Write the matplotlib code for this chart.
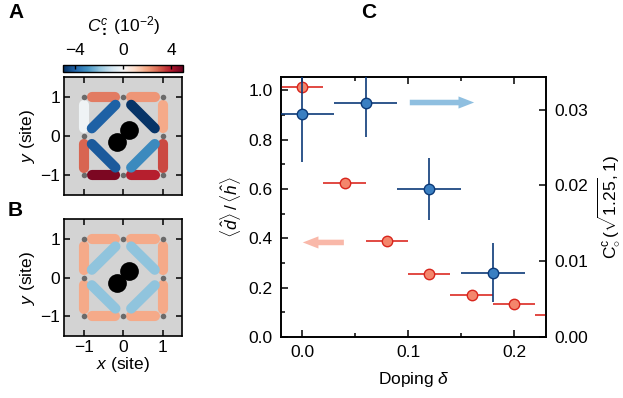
import numpy as np
import matplotlib.pyplot as plt
from matplotlib import cm, colors
from matplotlib.ticker import MultipleLocator

plt.rcParams['font.family'] = ['Liberation Sans', 'DejaVu Sans']
plt.rcParams['mathtext.fontset'] = 'custom'
plt.rcParams['mathtext.rm'] = 'Liberation Sans'
plt.rcParams['mathtext.it'] = 'Liberation Sans:italic'
plt.rcParams['font.size'] = 12.5
plt.rcParams['axes.linewidth'] = 1.2

# --- doping scan ---
dop_red = [0.0, 0.04, 0.08, 0.12, 0.16, 0.20, 0.24]
ratio_dh = [1.013, 0.622, 0.387, 0.254, 0.169, 0.135, 0.091]
dop_red_err = [0.02, 0.02, 0.02, 0.02, 0.02, 0.02, 0.02]

dop_blue = [0.0, 0.06, 0.12, 0.18]
corr_c = [0.0294, 0.0309, 0.0195, 0.0085]
corr_c_err = [0.0063, 0.0045, 0.0041, 0.0039]
dop_blue_err = [0.03, 0.03, 0.03, 0.03]

# --- bond maps (units of 1e-2) ---
sites_x = [-1, 0, 1, -1, 1, -1, 0, 1]
sites_y = [1, 1, 1, 0, 0, -1, -1, -1]
bonds = [((-1, 1), (0, 1)), ((0, 1), (1, 1)),
         ((-1, 1), (-1, 0)), ((1, 1), (1, 0)),
         ((-1, 0), (-1, -1)), ((1, 0), (1, -1)),
         ((-1, -1), (0, -1)), ((0, -1), (1, -1)),
         ((-1, 0), (0, 1)), ((0, 1), (1, 0)),
         ((-1, 0), (0, -1)), ((0, -1), (1, 0))]
corr_a = [2.6, 2.2, -0.2, 1.9, 2.9, 3.3, 4.7, 3.9, -4.1, -4.9, -4.2, -3.2]
corr_b = [1.9, 1.9, 1.9, 1.9, 1.9, 1.9, 1.9, 1.9, -2.0, -2.0, -2.0, -2.0]

cmap = plt.get_cmap('RdBu_r')
norm = colors.Normalize(-5, 5)

fig = plt.figure(figsize=(6.23, 3.98), dpi=100)


def bond_map(ax, vals):
    ax.set_facecolor('#d3d3d3')
    for (p, q), v in zip(bonds, vals):
        x0 = p[0] + 0.2 * (q[0] - p[0])
        y0 = p[1] + 0.2 * (q[1] - p[1])
        x1 = p[0] + 0.8 * (q[0] - p[0])
        y1 = p[1] + 0.8 * (q[1] - p[1])
        ax.plot([x0, x1], [y0, y1], color=cmap(norm(v)), lw=7.3,
                solid_capstyle='round', zorder=2)
    ax.plot(sites_x, sites_y, 'o', color='#6a6a6a', ms=4, mec='none', zorder=3)
    ax.plot([-0.15, 0.14], [-0.14, 0.16], 'o', color='k', ms=13.5, mec='none', zorder=4)
    ax.set_xlim(-1.5, 1.5)
    ax.set_ylim(-1.5, 1.5)
    ax.set_xticks([-1, 0, 1])
    ax.set_yticks([-1, 0, 1])
    ax.tick_params(direction='in', top=True, right=True, length=4, width=1.1, pad=3)
    ax.set_ylabel(r'$y$ (site)', labelpad=2)


ax_a = fig.add_axes([0.1032, 0.510, 0.1894, 0.2957])
bond_map(ax_a, corr_a)
ax_a.set_xticklabels([])

ax_b = fig.add_axes([0.1032, 0.1565, 0.1894, 0.2925])
bond_map(ax_b, corr_b)
ax_b.set_xlabel(r'$x$ (site)', labelpad=0)

cax = fig.add_axes([0.1016, 0.8183, 0.1926, 0.0183])
cb = fig.colorbar(cm.ScalarMappable(norm=norm, cmap=cmap), cax=cax,
                  orientation='horizontal', ticks=[-4, 0, 4])
cb.ax.xaxis.set_ticks_position('top')
cb.ax.xaxis.set_label_position('top')
cb.ax.tick_params(direction='in', length=3, width=1, pad=5)
cb.outline.set_linewidth(1)
cb.set_label(r'$C^{c}_{\mathbf{:}}$ (10$^{\mathregular{-2}}$)', labelpad=8)

# --- main panel ---
ax = fig.add_axes([0.451, 0.1533, 0.425, 0.653])
ax2 = ax.twinx()

ax.errorbar(dop_red, ratio_dh, xerr=dop_red_err, fmt='o', ms=7.5,
            mfc='#f4866c', mec='#d8261d', mew=1, ecolor='#dc2a22',
            elinewidth=1.2, capsize=0, zorder=3)
ax2.errorbar(dop_blue, corr_c, xerr=dop_blue_err, yerr=corr_c_err, fmt='o',
             ms=7.5, mfc='#3a7fc2', mec='#0c3a78', mew=1, ecolor='#0c3a78',
             elinewidth=1.2, capsize=0, zorder=3)

arrow_style = 'simple,head_length=0.9,head_width=0.7,tail_width=0.32'
ax.annotate('', xy=(0.165, 0.95), xytext=(0.099, 0.95),
            arrowprops=dict(arrowstyle=arrow_style, color='#6aaad6', alpha=0.75, lw=0))
ax.annotate('', xy=(-0.002, 0.383), xytext=(0.042, 0.383),
            arrowprops=dict(arrowstyle=arrow_style, color='#f7a08c', alpha=0.75, lw=0))

ax.set_xlim(-0.02, 0.23)
ax.set_ylim(0, 1.053)
ax2.set_ylim(0, 0.0343)
ax.xaxis.set_major_locator(MultipleLocator(0.1))
ax.xaxis.set_minor_locator(MultipleLocator(0.05))
ax.yaxis.set_major_locator(MultipleLocator(0.2))
ax.yaxis.set_minor_locator(MultipleLocator(0.1))
ax2.yaxis.set_major_locator(MultipleLocator(0.01))
ax.tick_params(which='both', direction='in', top=True, width=1.1)
ax.tick_params(which='major', length=5, pad=6)
ax.tick_params(which='minor', length=3)
ax2.tick_params(direction='in', length=5, width=1.1, pad=6)
ax.xaxis.set_major_formatter(plt.FuncFormatter(lambda v, p: f'{v:.1f}'))
ax.yaxis.set_major_formatter(plt.FuncFormatter(lambda v, p: f'{v:.1f}'))
ax2.yaxis.set_major_formatter(plt.FuncFormatter(lambda v, p: f'{v:.2f}'))

ax.set_xlabel(r'Doping $\delta$', labelpad=7)
ax.set_ylabel(r'$\langle\hat{d}\rangle\,/\,\langle\hat{h}\rangle$', labelpad=4)
ax2.set_ylabel(r'$\mathregular{C}^{\mathregular{c}}_{\circ}\,(\sqrt{1.25},1)$', labelpad=6)

fig.text(0.013, 0.968, 'A', fontsize=15, fontweight='bold', va='center')
fig.text(0.013, 0.472, 'B', fontsize=15, fontweight='bold', va='center')
fig.text(0.58, 0.968, 'C', fontsize=15, fontweight='bold', va='center')

fig.savefig('out.png', dpi=100)
